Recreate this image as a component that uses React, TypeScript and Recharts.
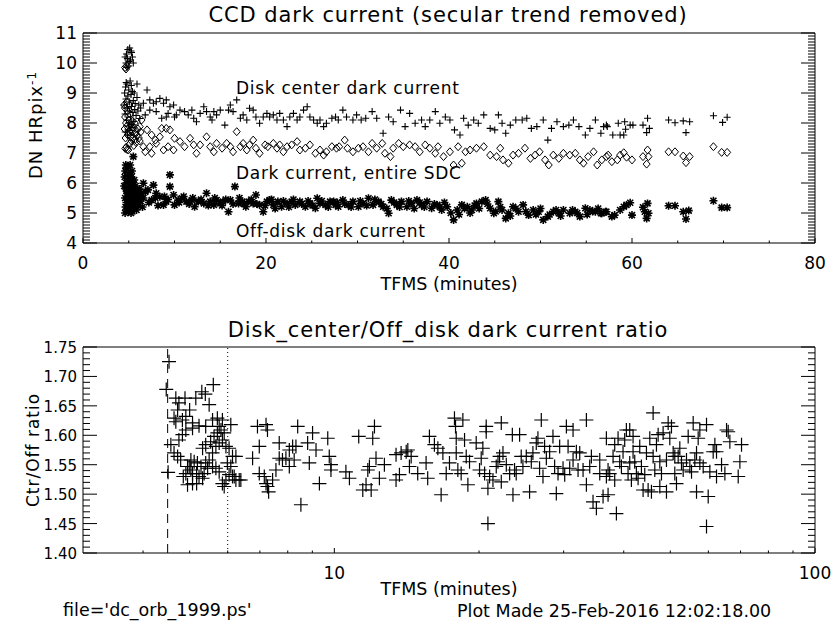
import React from 'react';
import { ScatterChart, Scatter, XAxis, YAxis, ReferenceLine } from 'recharts';

const FONT = '"DejaVu Sans", sans-serif';

// ---- top panel: TFMS (minutes) vs DN HRpix^-1 ----
const TOP_X_LABELS = [0, 20, 40, 60, 80];
const TOP_Y_LABELS = [4, 5, 6, 7, 8, 9, 10, 11];

const DISK_CENTER: [number, number][] = [
  [4.6, 10.2], [4.75, 10.3], [4.9, 10.45], [5.1, 10.5], [5.3, 10.35], [4.7, 10.0], [5.0, 9.9], [5.2, 10.1],
  [5.4, 10.2], [4.85, 10.15], [5.5, 10.0], [4.8, 9.85], [5.05, 10.05], [5.25, 10.4],
  [4.5, 8.6], [4.55, 9.0], [4.6, 8.3], [4.65, 9.2], [4.7, 8.8], [4.75, 8.1], [4.8, 9.3], [4.85, 8.5],
  [4.9, 8.9], [4.95, 7.9], [5.0, 9.1], [5.05, 8.4], [5.1, 8.7], [5.15, 9.4], [5.2, 8.2], [5.25, 8.95],
  [5.3, 8.55], [5.35, 7.85], [5.4, 9.05], [5.45, 8.35], [5.5, 8.75], [5.55, 8.05], [5.6, 9.0], [5.65, 8.45],
  [5.7, 8.65], [5.8, 8.25], [5.9, 8.85], [6.0, 8.4], [6.1, 8.6], [6.2, 8.15], [6.3, 8.5], [4.62, 7.7],
  [4.88, 7.6], [5.12, 7.75], [5.38, 7.95], [4.72, 9.35], [5.02, 8.0], [5.28, 9.25],
  [5.9, 9.3], [7.0, 9.1], [6.6, 8.66], [7.3, 8.77], [7.7, 8.66], [8.0, 8.71], [8.4, 8.82], [8.8, 8.66],
  [9.1, 8.77], [9.5, 8.54], [9.9, 8.6], [10.2, 8.27], [9.3, 8.32], [9.1, 8.2], [7.3, 8.43], [6.8, 8.27],
  [8.0, 8.38], [8.6, 8.16], [10.0, 8.2], [10.6, 8.43], [11.1, 8.38], [11.5, 8.27], [11.9, 8.43], [12.1, 8.16],
  [12.4, 8.04], [12.8, 8.32], [13.2, 8.54], [13.5, 8.38], [13.9, 8.2], [14.1, 8.1], [14.3, 8.38], [14.6, 8.27],
  [15.0, 8.43], [15.5, 7.93], [15.9, 8.43], [16.1, 8.6], [16.4, 8.38], [16.8, 8.77], [17.2, 8.16], [17.5, 8.27],
  [17.9, 8.1], [18.2, 8.49], [18.6, 8.43], [18.9, 8.2], [19.3, 7.99], [19.7, 8.2], [20.1, 8.32], [20.4, 8.2],
  [20.8, 8.27], [21.2, 8.1], [21.5, 8.32], [21.9, 8.1], [22.3, 7.88], [22.6, 8.2], [23.0, 8.32], [23.4, 8.1],
  [23.7, 8.2], [24.1, 8.43], [24.5, 8.54], [24.8, 8.2], [25.2, 8.1], [25.6, 7.99], [25.9, 8.1], [26.3, 7.88],
  [26.6, 7.99], [27.2, 8.16], [27.6, 8.2], [27.9, 8.1],
  [28.4, 8.43], [28.8, 8.2], [29.5, 8.1], [29.9, 8.27], [30.4, 8.1], [30.9, 8.16], [31.6, 8.38], [32.1, 8.16],
  [32.8, 7.66], [33.4, 8.2], [33.9, 8.04], [34.7, 8.43], [35.2, 7.88], [35.7, 8.32], [36.3, 7.99], [37.0, 8.1],
  [37.4, 7.88], [37.9, 8.1], [38.5, 8.38], [39.0, 7.99], [39.6, 8.2], [40.1, 8.1], [40.6, 7.77], [41.2, 7.6],
  [41.6, 8.16], [42.1, 7.93], [42.7, 8.1], [43.2, 7.99], [43.8, 8.27], [44.5, 7.82], [45.0, 7.77], [45.4, 8.27],
  [45.8, 7.99], [46.2, 7.66], [46.7, 7.93], [47.3, 8.1], [48.0, 8.1], [48.5, 8.16], [49.0, 7.82], [49.6, 7.88],
  [50.3, 8.1], [50.8, 7.43], [51.2, 7.82], [51.8, 8.04], [52.5, 7.88], [53.1, 7.93], [53.6, 8.1], [54.2, 7.88],
  [54.9, 7.6], [55.4, 7.82], [56.0, 8.1], [56.6, 7.66], [57.3, 7.88],
  [56.9, 7.88], [57.2, 7.93], [57.9, 7.6], [58.5, 7.99], [58.7, 7.6], [59.1, 7.6], [59.2, 8.04], [59.3, 7.79],
  [59.8, 7.93], [60.1, 7.93], [61.2, 7.93], [61.7, 8.16], [61.6, 7.68], [61.9, 7.82], [64.0, 8.1], [64.7, 8.01],
  [65.6, 8.07], [65.9, 7.68], [66.3, 8.04], [68.9, 8.24], [69.9, 8.02], [70.4, 8.19],
];

const ENTIRE_SDC: [number, number][] = [
  [4.6, 9.85], [4.7, 9.8], [4.8, 9.9],
  [4.5, 8.6], [4.55, 7.8], [4.6, 8.2], [4.65, 7.5], [4.7, 8.0], [4.75, 7.2], [4.8, 7.9], [4.85, 8.4],
  [4.9, 7.6], [4.95, 7.1], [5.0, 8.1], [5.05, 7.7], [5.1, 7.3], [5.15, 8.3], [5.2, 7.55], [5.25, 7.95],
  [5.3, 7.4], [5.35, 7.75], [5.4, 8.05], [5.45, 7.5], [5.5, 7.85], [5.55, 7.25], [5.6, 7.65], [5.65, 8.0],
  [5.7, 7.45], [5.75, 7.7], [5.8, 7.35], [5.9, 7.6], [6.0, 7.8], [6.1, 7.5], [6.2, 7.4], [6.3, 7.7],
  [4.58, 8.5], [4.78, 8.7], [5.08, 8.6], [4.62, 7.15], [4.82, 7.12],
  [6.2, 7.88], [6.4, 8.1], [7.0, 7.77], [7.5, 7.6], [7.9, 7.43], [8.6, 7.82], [9.1, 7.82], [9.5, 7.77],
  [8.4, 7.54], [8.0, 7.32], [7.3, 7.21], [7.5, 6.99], [6.6, 7.21], [6.8, 7.04], [8.8, 7.1], [9.3, 7.21],
  [9.9, 7.1], [10.0, 7.49], [10.6, 7.38], [11.1, 7.21], [11.7, 7.49], [12.1, 7.27], [12.4, 6.99], [12.8, 7.27],
  [13.5, 7.54], [13.9, 7.21], [14.3, 7.04], [14.6, 7.32], [15.2, 7.16], [15.7, 7.32], [16.1, 7.21], [16.4, 7.04],
  [16.8, 7.71], [17.2, 7.21], [17.5, 7.32], [17.9, 7.1], [18.2, 7.27], [18.6, 7.43], [18.9, 7.16], [19.3, 6.99],
  [19.9, 7.27], [20.2, 7.21], [20.8, 7.32], [21.2, 7.16], [21.5, 7.27], [21.9, 7.04], [22.3, 7.21], [22.8, 7.27],
  [23.4, 7.38], [23.7, 7.1], [24.3, 7.16], [24.8, 7.27], [25.4, 6.99], [25.9, 7.1], [26.3, 6.93], [26.6, 7.04],
  [27.2, 7.21], [27.7, 7.16],
  [28.0, 7.21], [28.6, 7.43], [28.9, 7.16], [29.5, 7.04], [30.1, 7.16], [30.6, 7.21], [31.2, 7.04], [31.6, 7.32],
  [32.1, 7.16], [32.7, 7.32], [33.0, 6.99], [33.6, 6.88], [33.9, 7.16], [34.5, 7.32], [35.0, 7.21], [35.7, 7.27],
  [36.3, 7.21], [36.8, 7.04], [37.4, 7.27], [37.9, 7.16], [38.5, 6.99], [38.8, 7.21], [39.4, 6.88], [40.1, 7.04],
  [40.5, 6.6], [41.0, 7.21], [41.4, 6.66], [41.8, 7.04], [42.3, 7.1], [43.0, 7.16], [43.8, 7.21], [44.5, 6.93],
  [45.2, 6.88], [45.6, 7.16], [45.9, 6.77], [46.5, 6.66], [47.0, 6.93], [47.6, 6.99], [48.3, 7.16], [48.9, 6.82],
  [49.4, 6.93], [49.9, 7.04], [50.5, 6.77], [50.9, 6.6], [51.4, 6.93], [52.0, 6.82], [52.5, 6.99], [53.2, 6.93],
  [53.8, 6.99], [54.3, 6.77], [54.7, 6.66], [55.2, 6.88], [55.8, 7.04], [56.2, 6.6], [56.7, 6.77], [57.4, 6.93],
  [57.2, 6.88], [57.8, 6.71], [58.4, 6.77], [58.7, 6.93], [59.1, 7.01], [59.4, 6.86], [60.0, 6.77], [61.2, 6.88],
  [61.7, 7.1], [61.8, 6.88], [61.6, 6.63], [64.0, 7.04], [64.7, 7.04], [65.6, 6.9], [65.9, 6.68], [66.3, 6.88],
  [68.9, 7.21], [69.8, 7.02], [70.4, 7.02],
];

const OFF_DISK: [number, number][] = [
  [4.5, 5.9], [4.55, 6.2], [4.6, 5.5], [4.62, 6.4], [4.65, 5.2], [4.7, 5.8], [4.72, 6.0], [4.75, 5.35],
  [4.8, 6.5], [4.82, 5.65], [4.85, 5.1], [4.9, 6.1], [4.92, 5.45], [4.95, 5.85], [5.0, 6.3], [5.02, 5.25],
  [5.05, 5.7], [5.1, 6.0], [5.12, 5.4], [5.15, 6.6], [5.2, 5.55], [5.22, 5.15], [5.25, 5.9], [5.3, 6.2],
  [5.32, 5.35], [5.35, 5.75], [5.4, 5.05], [5.45, 6.05], [5.5, 5.5], [5.52, 5.8], [5.55, 5.2], [5.6, 6.1],
  [5.65, 5.6], [5.7, 5.3], [5.75, 5.9], [5.8, 5.45], [5.85, 5.1], [5.9, 5.7], [5.95, 5.35], [6.0, 5.55],
  [6.1, 5.25], [6.2, 5.8], [6.3, 5.4], [6.4, 5.65], [6.5, 5.2], [6.6, 5.5], [4.6, 5.0], [4.85, 5.95],
  [5.05, 5.55], [5.35, 6.4], [5.25, 5.0], [4.68, 6.6], [5.0, 5.05], [4.78, 5.75], [5.18, 5.85], [5.42, 5.6],
  [5.62, 5.4], [5.12, 6.25], [5.5, 6.88],
  [6.6, 5.99], [7.1, 5.77], [7.5, 5.43], [7.7, 5.93], [8.0, 5.66], [8.4, 5.54], [8.8, 5.27], [9.1, 5.38],
  [9.5, 6.27], [9.5, 5.88], [9.9, 5.6], [10.0, 5.27], [10.4, 5.43], [10.8, 5.49], [11.3, 5.38], [11.9, 5.43],
  [12.2, 5.21], [12.6, 5.38], [13.2, 5.32], [13.5, 5.66], [13.9, 5.38], [14.3, 5.27], [14.6, 5.43], [15.0, 5.32],
  [15.3, 5.38], [15.9, 5.04], [16.1, 5.43], [16.6, 5.88], [17.0, 5.32], [17.4, 5.38], [17.8, 5.21], [18.1, 5.38],
  [18.6, 5.32], [18.9, 5.6], [19.3, 5.27], [19.7, 5.04], [20.1, 5.38], [20.4, 5.43], [20.8, 5.27], [21.3, 5.38],
  [21.7, 5.21], [22.3, 5.32], [22.8, 5.38], [23.2, 5.27], [23.7, 5.38], [24.3, 5.21], [24.8, 5.32], [25.4, 5.16],
  [25.6, 5.49], [25.9, 5.32], [26.5, 5.27], [27.0, 5.38], [27.6, 5.27],
  [27.4, 5.38], [27.9, 5.21], [28.4, 5.43], [29.0, 5.27], [29.5, 5.38], [30.1, 5.21], [30.6, 5.32], [31.2, 5.49],
  [31.7, 5.27], [32.3, 5.38], [32.8, 5.21], [33.4, 4.99], [33.7, 5.43], [34.3, 5.27], [34.8, 5.38], [35.4, 5.21],
  [35.9, 5.32], [36.5, 5.43], [37.0, 5.27], [37.6, 5.38], [38.1, 5.16], [38.7, 5.27], [39.2, 5.1], [39.8, 5.21],
  [40.5, 4.77], [40.9, 5.1], [41.4, 5.27], [42.0, 5.21], [42.5, 5.1], [43.0, 5.32], [43.6, 5.38], [44.0, 5.43],
  [44.5, 5.16], [44.9, 4.99], [45.4, 5.38], [45.8, 5.1], [46.2, 4.82], [46.5, 4.99], [47.0, 5.21], [47.6, 5.04],
  [48.1, 5.27], [48.7, 4.93], [49.2, 5.1], [49.8, 5.04], [50.3, 4.77], [50.8, 4.88], [51.4, 5.04], [52.0, 4.99],
  [52.5, 5.1], [53.2, 4.99], [53.8, 5.04], [54.3, 4.88], [54.9, 5.16], [55.4, 5.1], [56.0, 5.04], [56.6, 4.99],
  [57.1, 5.04], [56.7, 4.99], [57.2, 5.04], [57.8, 4.88], [58.1, 4.93], [58.7, 5.1], [59.1, 5.21], [59.4, 5.27],
  [59.8, 5.34], [60.0, 4.93], [61.2, 5.19], [61.4, 5.04], [61.6, 4.82], [61.7, 5.32], [61.8, 4.99], [64.0, 5.24],
  [64.7, 5.24], [65.6, 5.04], [65.9, 4.8], [66.2, 5.08], [68.9, 5.41], [69.8, 5.18], [70.4, 5.18],
  [6.2, 5.6], [6.8, 5.7], [7.2, 5.35], [7.9, 5.5], [8.2, 5.25], [8.9, 5.55], [9.3, 5.45], [10.5, 5.35],
  [11.0, 5.55], [11.6, 5.3], [12.0, 5.5], [12.9, 5.45], [13.7, 5.25], [14.4, 5.5], [15.2, 5.25], [15.6, 5.45],
  [16.4, 5.3], [17.1, 5.5], [17.6, 5.3], [18.4, 5.45], [19.0, 5.3], [19.9, 5.25], [20.6, 5.45], [21.0, 5.15],
  [21.9, 5.4], [22.5, 5.2], [23.0, 5.45], [23.9, 5.3], [24.6, 5.4], [25.1, 5.25], [26.1, 5.4], [26.8, 5.2],
  [27.8, 5.35], [28.6, 5.3], [29.3, 5.2], [30.3, 5.4], [31.0, 5.25], [31.9, 5.45], [32.6, 5.3], [33.2, 5.15],
  [34.0, 5.35], [34.6, 5.2], [35.6, 5.4], [36.2, 5.15], [36.8, 5.35], [37.3, 5.2], [38.4, 5.3], [39.0, 5.2],
  [39.5, 5.35], [40.2, 5.0], [41.1, 4.95], [41.7, 5.15], [42.3, 5.0], [42.8, 5.25], [43.3, 5.15], [44.2, 5.3],
  [45.1, 5.05], [45.6, 5.2], [46.7, 4.9], [47.3, 5.15], [48.4, 5.05], [49.5, 4.95], [50.0, 5.15], [51.0, 4.95],
  [51.7, 5.1], [52.2, 4.9], [53.5, 5.1], [54.0, 5.0], [55.1, 4.95], [55.7, 5.05], [56.3, 5.15],
];

// ---- bottom panel: Disk_center / Off_disk ratio, log TFMS ----
const BOT_X_LABELS = [10, 100];
const BOT_X_TICKS = [4, 5, 6, 7, 8, 9, 10, 20, 30, 40, 50, 60, 70, 80, 90, 100];
const BOT_Y_LABELS = [1.4, 1.45, 1.5, 1.55, 1.6, 1.65, 1.7, 1.75];
const ORBIT_START = 4.5;
const ORBIT_MARK = 6;

const RATIO: [number, number][] = [
  [4.47, 1.678], [4.53, 1.725], [4.51, 1.537], [4.68, 1.663], [4.75, 1.655], [4.89, 1.663], [4.72, 1.643], [4.64, 1.629],
  [4.83, 1.626], [4.91, 1.632], [5.0, 1.643], [4.68, 1.623], [5.07, 1.621], [5.15, 1.663], [5.3, 1.674], [5.39, 1.67],
  [5.49, 1.652], [5.6, 1.686], [5.71, 1.629], [5.85, 1.626], [5.58, 1.626], [5.4, 1.615], [5.23, 1.616], [5.07, 1.612],
  [4.91, 1.609], [4.83, 1.601], [4.75, 1.592], [4.57, 1.584], [4.64, 1.57], [4.72, 1.564], [4.79, 1.558], [4.95, 1.547],
  [5.03, 1.541], [4.91, 1.535], [4.85, 1.53], [4.95, 1.516], [5.07, 1.518], [5.17, 1.518], [5.23, 1.53], [5.32, 1.527],
  [5.4, 1.553], [5.49, 1.558], [5.58, 1.57], [5.67, 1.581], [5.76, 1.587], [5.85, 1.592], [5.95, 1.581], [6.04, 1.578],
  [5.99, 1.553], [6.09, 1.547], [6.04, 1.533], [6.14, 1.53], [6.24, 1.524], [6.34, 1.524], [5.95, 1.524], [5.85, 1.518],
  [5.9, 1.513], [5.76, 1.538], [5.67, 1.544], [5.58, 1.547], [5.45, 1.544], [5.36, 1.535], [5.28, 1.547], [5.19, 1.553],
  [5.11, 1.555], [5.03, 1.558], [4.99, 1.547], [5.07, 1.535], [5.17, 1.535], [5.32, 1.578], [5.4, 1.584], [5.53, 1.589],
  [5.62, 1.598], [5.71, 1.604], [5.81, 1.609], [5.9, 1.604], [5.76, 1.615], [6.09, 1.618], [6.14, 1.564], [6.24, 1.564],
  [6.19, 1.53], [6.39, 1.524],
  [6.76, 1.561], [6.92, 1.615], [6.98, 1.581], [7.21, 1.618], [7.26, 1.609], [6.98, 1.535], [7.15, 1.53], [7.21, 1.518],
  [7.26, 1.513], [7.3, 1.504], [7.44, 1.524], [7.56, 1.541], [7.68, 1.587], [7.68, 1.561], [7.8, 1.558], [7.93, 1.561],
  [8.06, 1.547], [8.06, 1.575], [8.19, 1.581], [8.25, 1.558], [8.32, 1.581], [8.39, 1.615], [8.52, 1.482], [8.8, 1.587],
  [8.87, 1.553], [9.01, 1.604], [9.16, 1.575], [9.31, 1.518], [9.69, 1.595], [9.76, 1.564], [9.84, 1.55], [9.84, 1.541],
  [10.57, 1.538], [10.75, 1.527], [11.24, 1.598], [11.46, 1.507], [11.64, 1.516], [11.93, 1.507], [11.74, 1.541], [11.83, 1.547],
  [12.02, 1.595], [12.12, 1.615], [12.21, 1.561], [12.41, 1.527], [12.71, 1.55], [13.44, 1.524], [13.44, 1.567], [13.66, 1.533],
  [13.77, 1.57], [14.11, 1.572], [14.22, 1.575], [14.33, 1.547], [14.45, 1.564], [14.91, 1.535], [15.52, 1.553], [15.64, 1.527],
  [15.77, 1.598], [16.15, 1.584], [16.42, 1.578], [16.68, 1.499], [16.82, 1.57], [17.09, 1.535], [17.36, 1.553], [17.78, 1.629],
  [17.87, 1.615], [17.93, 1.595], [17.93, 1.57], [18.07, 1.541], [18.36, 1.535], [18.51, 1.626], [18.66, 1.592], [18.81, 1.564],
  [18.96, 1.516], [19.11, 1.555], [19.73, 1.587], [20.05, 1.541], [20.21, 1.561], [20.37, 1.578], [20.54, 1.535], [20.7, 1.615],
  [20.7, 1.606], [20.87, 1.45], [20.87, 1.51], [21.04, 1.53], [21.38, 1.524], [21.72, 1.547], [21.9, 1.555], [22.07, 1.564],
  [22.25, 1.621], [22.25, 1.521], [22.43, 1.57], [22.79, 1.55], [23.16, 1.535], [23.46, 1.601], [23.53, 1.499], [23.71, 1.541],
  [23.9, 1.535], [24.29, 1.601], [24.48, 1.564], [24.68, 1.547], [25.08, 1.564], [25.48, 1.504], [25.69, 1.555], [25.89, 1.57],
  [26.31, 1.587], [26.52, 1.595], [26.73, 1.544], [26.95, 1.626], [27.17, 1.53], [27.38, 1.581], [27.61, 1.561], [28.05, 1.572],
  [28.5, 1.598], [28.73, 1.547], [28.96, 1.501], [29.2, 1.535], [29.43, 1.581], [29.91, 1.544], [30.15, 1.533], [30.39, 1.615],
  [30.64, 1.581], [30.88, 1.544], [31.38, 1.609], [31.38, 1.558], [31.88, 1.572], [32.14, 1.541], [32.4, 1.57], [32.92, 1.541],
  [33.45, 1.626], [33.45, 1.516], [33.99, 1.547], [34.26, 1.564], [34.53, 1.487], [35.09, 1.476], [35.66, 1.558], [36.23, 1.496],
  [36.81, 1.595], [37.11, 1.541], [36.81, 1.53],
  [35.66, 1.535], [37.11, 1.499], [37.4, 1.535], [38.01, 1.564], [38.31, 1.524], [38.31, 1.584], [38.62, 1.467], [38.93, 1.595],
  [39.24, 1.555], [39.56, 1.547], [39.87, 1.572], [40.19, 1.592], [40.51, 1.609], [40.84, 1.535], [41.17, 1.553], [41.17, 1.609],
  [41.5, 1.524], [41.83, 1.572], [41.83, 1.598], [42.17, 1.555], [42.5, 1.535], [42.85, 1.527], [43.19, 1.581], [43.54, 1.547],
  [43.89, 1.507], [44.24, 1.533], [44.6, 1.57], [44.96, 1.507], [45.32, 1.595], [45.68, 1.504], [46.05, 1.638], [46.05, 1.564],
  [46.42, 1.541], [46.79, 1.584], [47.17, 1.601], [47.55, 1.513], [47.55, 1.555], [47.93, 1.535], [48.31, 1.604], [49.09, 1.558],
  [49.09, 1.504], [49.49, 1.621], [49.88, 1.595], [50.28, 1.615], [50.69, 1.57], [51.09, 1.564], [51.09, 1.535], [51.5, 1.518],
  [51.92, 1.564], [52.33, 1.578], [52.75, 1.553], [53.18, 1.541], [54.03, 1.558], [54.47, 1.598], [54.91, 1.547], [55.35, 1.538],
  [55.79, 1.621], [56.23, 1.558], [56.69, 1.57], [56.69, 1.504], [57.14, 1.595], [57.6, 1.553], [57.6, 1.609], [58.53, 1.547],
  [59.47, 1.618], [59.47, 1.445], [59.95, 1.496], [60.43, 1.538], [61.4, 1.572], [61.9, 1.584], [62.39, 1.572], [62.39, 1.53],
  [63.91, 1.55], [64.94, 1.535], [65.46, 1.609], [65.98, 1.606], [66.51, 1.589], [69.22, 1.53], [69.78, 1.555], [70.33, 1.584],
];

const toPts = (arr: [number, number][]) => arr.map(([t, v]) => ({ t, v }));

// ---- tick helpers (IDL style: ticks point into the plot) ----
const range = (start: number, step: number, n: number) =>
  Array.from({ length: n }, (_, i) => +(start + i * step).toFixed(4));
const has = (arr: number[], v: number) => arr.some((a) => Math.abs(a - v) < 1e-6);

const TOP_X_TICKS = range(0, 5, 17);
const TOP_Y_TICKS = range(4, 0.1, 71);
const BOT_Y_TICKS = range(1.4, 0.01, 36);

const bottomTick = (labels: number[], major: number, minor: number, fmt: (v: number) => string, size = 17) =>
  (p: any) => {
    const v = p.payload.value;
    const big = has(labels, v);
    return (
      <g>
        <line x1={p.x} x2={p.x} y1={p.y} y2={p.y - (big ? major : minor)} stroke="#000" />
        {big && (
          <text x={p.x} y={p.y + 26} textAnchor="middle" fontFamily={FONT} fontSize={size} fill="#000">
            {fmt(v)}
          </text>
        )}
      </g>
    );
  };

const topTick = (labels: number[], major: number, minor: number) => (p: any) => {
  const big = has(labels, p.payload.value);
  return <line x1={p.x} x2={p.x} y1={p.y} y2={p.y + (big ? major : minor)} stroke="#000" />;
};

const leftTick = (labels: number[], major: number, minor: number, fmt: (v: number) => string, size = 17) =>
  (p: any) => {
    const v = p.payload.value;
    const big = has(labels, v);
    return (
      <g>
        <line x1={p.x} x2={p.x + (big ? major : minor)} y1={p.y} y2={p.y} stroke="#000" />
        {big && (
          <text x={p.x - 6} y={p.y + 6} textAnchor="end" fontFamily={FONT} fontSize={size} fill="#000">
            {fmt(v)}
          </text>
        )}
      </g>
    );
  };

const rightTick = (labels: number[], major: number, minor: number) => (p: any) => {
  const big = has(labels, p.payload.value);
  return <line x1={p.x} x2={p.x - (big ? major : minor)} y1={p.y} y2={p.y} stroke="#000" />;
};

// ---- marker shapes ----
const PlusSmall = ({ cx, cy }: any) => (
  <path d={`M${cx - 3.5},${cy}H${cx + 3.5}M${cx},${cy - 3.5}V${cy + 3.5}`} stroke="#000" strokeWidth={1.1} />
);
const DiamondOpen = ({ cx, cy }: any) => (
  <path d={`M${cx},${cy - 4}L${cx + 3.5},${cy}L${cx},${cy + 4}L${cx - 3.5},${cy}Z`} stroke="#000" strokeWidth={1} fill="none" />
);
const Asterisk = ({ cx, cy }: any) => (
  <path
    d={`M${cx - 4},${cy}H${cx + 4}M${cx},${cy - 4}V${cy + 4}M${cx - 3},${cy - 3}L${cx + 3},${cy + 3}M${cx - 3},${cy + 3}L${cx + 3},${cy - 3}`}
    stroke="#000"
    strokeWidth={1.6}
  />
);
const PlusBig = ({ cx, cy }: any) => (
  <path d={`M${cx - 7},${cy}H${cx + 7}M${cx},${cy - 7}V${cy + 7}`} stroke="#000" strokeWidth={1.2} />
);

const Txt = ({ x, y, size = 17, anchor = 'middle', ls = 0, rotate = false, children }: any) => (
  <div
    style={{
      position: 'absolute',
      left: x,
      top: y,
      transform: `translate(${anchor === 'middle' ? '-50%' : '0'}, -50%)${rotate ? ' rotate(-90deg)' : ''}`,
      fontFamily: FONT,
      fontSize: size,
      letterSpacing: ls,
      whiteSpace: 'nowrap',
      lineHeight: 1,
      color: '#000',
    }}
  >
    {children}
  </div>
);

const axisLine = { stroke: '#000', strokeWidth: 1 };

export default function App() {
  return (
    <div style={{ position: 'absolute', left: 0, top: 0, width: 833, height: 632, background: '#fff', overflow: 'hidden' }}>
      <div style={{ position: 'absolute', left: 0, top: 0 }}>
        <ScatterChart width={833} height={300} margin={{ top: 13, right: 8, bottom: 27, left: 23 }}>
          <XAxis xAxisId="b" type="number" dataKey="t" domain={[0, 80]} allowDataOverflow ticks={TOP_X_TICKS}
            interval={0} tickSize={0} tickMargin={0} height={30} axisLine={axisLine}
            tick={bottomTick(TOP_X_LABELS, 5, 2.5, (v) => String(v))} />
          <XAxis xAxisId="t" orientation="top" type="number" domain={[0, 80]} allowDataOverflow ticks={TOP_X_TICKS}
            interval={0} tickSize={0} tickMargin={0} height={20} axisLine={axisLine}
            tick={topTick(TOP_X_LABELS, 5, 2.5)} />
          <YAxis yAxisId="l" type="number" dataKey="v" domain={[4, 11]} allowDataOverflow ticks={TOP_Y_TICKS}
            interval={0} tickSize={0} tickMargin={0} width={60} axisLine={axisLine}
            tick={leftTick(TOP_Y_LABELS, 14, 7, (v) => String(v))} />
          <YAxis yAxisId="r" orientation="right" type="number" domain={[4, 11]} allowDataOverflow ticks={TOP_Y_TICKS}
            interval={0} tickSize={0} tickMargin={0} width={10} axisLine={axisLine}
            tick={rightTick(TOP_Y_LABELS, 14, 7)} />
          <Scatter xAxisId="b" yAxisId="l" data={toPts(ENTIRE_SDC)} shape={(p: any) => <DiamondOpen {...p} />} isAnimationActive={false} />
          <Scatter xAxisId="b" yAxisId="l" data={toPts(DISK_CENTER)} shape={(p: any) => <PlusSmall {...p} />} isAnimationActive={false} />
          <Scatter xAxisId="b" yAxisId="l" data={toPts(OFF_DISK)} shape={(p: any) => <Asterisk {...p} />} isAnimationActive={false} />
        </ScatterChart>
      </div>

      <div style={{ position: 'absolute', left: 0, top: 300 }}>
        <ScatterChart width={833} height={332} margin={{ top: 27, right: 8, bottom: 49, left: 23 }}>
          <XAxis xAxisId="b" type="number" scale="log" dataKey="t" domain={[3, 100]} allowDataOverflow ticks={BOT_X_TICKS}
            interval={0} tickSize={0} tickMargin={0} height={30} axisLine={axisLine}
            tick={bottomTick(BOT_X_LABELS, 5, 2.5, (v) => String(v))} />
          <XAxis xAxisId="t" orientation="top" type="number" scale="log" domain={[3, 100]} allowDataOverflow ticks={BOT_X_TICKS}
            interval={0} tickSize={0} tickMargin={0} height={20} axisLine={axisLine}
            tick={topTick(BOT_X_LABELS, 5, 2.5)} />
          <YAxis yAxisId="l" type="number" dataKey="v" domain={[1.4, 1.75]} allowDataOverflow ticks={BOT_Y_TICKS}
            interval={0} tickSize={0} tickMargin={0} width={60} axisLine={axisLine}
            tick={leftTick(BOT_Y_LABELS, 14, 7, (v) => v.toFixed(2), 15)} />
          <YAxis yAxisId="r" orientation="right" type="number" domain={[1.4, 1.75]} allowDataOverflow ticks={BOT_Y_TICKS}
            interval={0} tickSize={0} tickMargin={0} width={10} axisLine={axisLine}
            tick={rightTick(BOT_Y_LABELS, 14, 7)} />
          <ReferenceLine xAxisId="b" yAxisId="l" x={ORBIT_START} stroke="#000" strokeDasharray="9 6" />
          <ReferenceLine xAxisId="b" yAxisId="l" x={ORBIT_MARK} stroke="#000" strokeDasharray="1 3" />
          <Scatter xAxisId="b" yAxisId="l" data={toPts(RATIO)} shape={(p: any) => <PlusBig {...p} />} isAnimationActive={false} />
        </ScatterChart>
      </div>

      <Txt x={448} y={15} size={21} ls={0.9}>CCD dark current (secular trend removed)</Txt>
      <Txt x={236} y={88} anchor="start" ls={0.7}>Disk center dark current</Txt>
      <Txt x={236} y={173} anchor="start" ls={0.7}>Dark current, entire SDC</Txt>
      <Txt x={236} y={231} anchor="start" ls={0.7}>Off-disk dark current</Txt>
      <Txt x={449} y={285} size={17.5}>TFMS (minutes)</Txt>
      <Txt x={35} y={125} size={18} ls={1} rotate>
        DN HRpix<span style={{ fontSize: 12, verticalAlign: '0.5em' }}>-1</span>
      </Txt>

      <Txt x={448} y={330} size={21} ls={0.9}>Disk_center/Off_disk dark current ratio</Txt>
      <Txt x={449} y={590} size={17.5}>TFMS (minutes)</Txt>
      <Txt x={33} y={450} size={17} ls={1} rotate>Ctr/Off ratio</Txt>

      <Txt x={63} y={611} size={17.5} anchor="start">file='dc_orb_1999.ps'</Txt>
      <Txt x={457} y={612} size={17.5} anchor="start">Plot Made 25-Feb-2016 12:02:18.00</Txt>
    </div>
  );
}
